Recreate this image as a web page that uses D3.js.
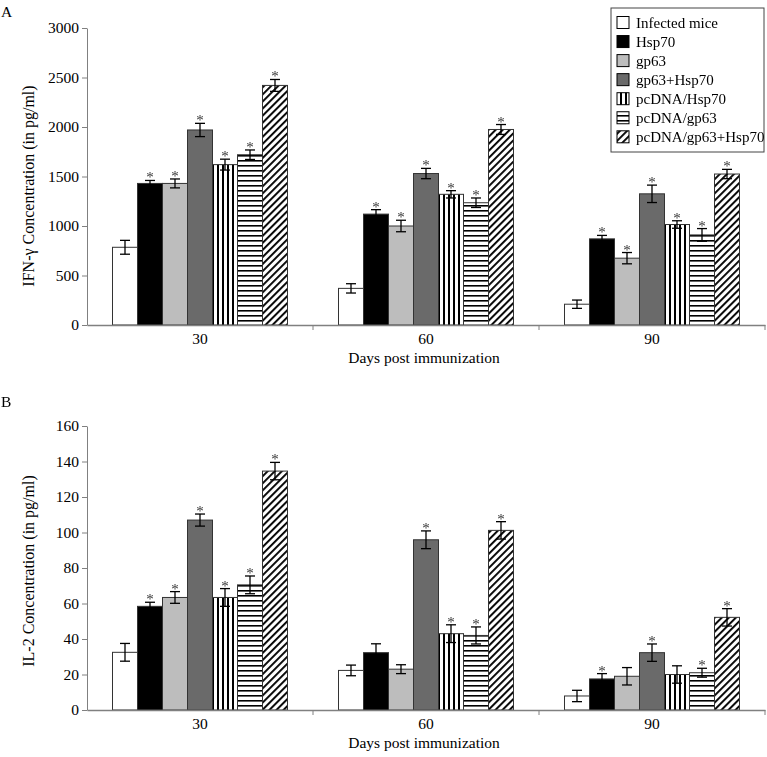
<!DOCTYPE html>
<html><head><meta charset="utf-8">
<script src="https://cdn.jsdelivr.net/npm/d3@7"></script>
<style>body{margin:0;background:#fff}svg{display:block}text{font-family:"Liberation Serif","Times New Roman",serif}.ast{opacity:0.99;will-change:transform}</style>
</head><body><svg id="c" width="767" height="757"></svg>
<script>
const categories = ["30", "60", "90"];
const seriesNames = ["Infected mice", "Hsp70", "gp63", "gp63+Hsp70", "pcDNA/Hsp70", "pcDNA/gp63", "pcDNA/gp63+Hsp70"];
// IFN-gamma (panel A): values per series, one per day
const ifnValues = [
  [785, 370, 210],
  [1430, 1120, 870],
  [1430, 1000, 675],
  [1970, 1530, 1325],
  [1620, 1320, 1015],
  [1720, 1235, 910],
  [2420, 1975, 1525]
];
const ifnErrors = [
  [70, 47, 42],
  [30, 45, 35],
  [45, 58, 57],
  [67, 52, 88],
  [55, 37, 38],
  [48, 48, 64],
  [60, 50, 47]
];
const ifnSig = [
  [0, 0, 0], [1, 1, 1], [1, 1, 1], [1, 1, 1], [1, 1, 1], [1, 1, 1], [1, 1, 1]
];
// IL-2 (panel B)
const il2Values = [
  [32.5, 22.3, 7.9],
  [58.4, 32.3, 17.5],
  [63.4, 23, 19],
  [107, 95.9, 32.3],
  [63.4, 43, 20],
  [70.5, 42, 21],
  [134.6, 101.2, 52.2]
];
const il2Errors = [
  [5, 3, 3.2],
  [2.3, 5, 3],
  [3.3, 2.5, 4.9],
  [3.4, 5, 4.9],
  [5, 5, 4.9],
  [5, 4.8, 2.5],
  [4.9, 4.9, 4.9]
];
const il2Sig = [
  [0, 0, 0], [1, 0, 1], [1, 0, 0], [1, 1, 1], [1, 1, 0], [1, 1, 1], [1, 1, 1]
];
const ifnTicks = [0, 500, 1000, 1500, 2000, 2500, 3000];
const il2Ticks = [0, 20, 40, 60, 80, 100, 120, 140, 160];

const svg = d3.select("#c");
const defs = svg.append("defs");
// patterns
const pv = defs.append("pattern").attr("id","pv").attr("patternUnits","userSpaceOnUse").attr("width",5).attr("height",5);
pv.append("rect").attr("width",5).attr("height",5).attr("fill","#fff");
pv.append("rect").attr("x",0).attr("width",2).attr("height",5).attr("fill","#000");
const ph = defs.append("pattern").attr("id","ph").attr("patternUnits","userSpaceOnUse").attr("width",5).attr("height",5);
ph.append("rect").attr("width",5).attr("height",5).attr("fill","#fff");
ph.append("rect").attr("y",0).attr("width",5).attr("height",1.6).attr("fill","#000");
const pd = defs.append("pattern").attr("id","pd").attr("patternUnits","userSpaceOnUse").attr("width",5).attr("height",5).attr("patternTransform","rotate(45)");
pd.append("rect").attr("width",5).attr("height",5).attr("fill","#fff");
pd.append("rect").attr("x",0).attr("width",1.9).attr("height",5).attr("fill","#000");

const fills = ["#ffffff", "#000000", "#bdbdbd", "#6a6a6a", "url(#pv)", "url(#ph)", "url(#pd)"];
const axisColor = "#808080";
const FS = 15.5;

function panel(opts) {
  const {top, bottom, left, right, values, errors, sig, ticks, maxY, yTitle, yTitleY, label, labelY} = opts;
  const g = svg.append("g");
  const x0 = d3.scaleBand().domain(categories).range([left, right]).paddingInner(0).paddingOuter(0);
  const x1 = d3.scaleBand().domain(d3.range(seriesNames.length)).range([0, x0.bandwidth()]).paddingOuter(1.02).paddingInner(0);
  const y = d3.scaleLinear().domain([0, maxY]).range([bottom, top]);

  // Y axis
  const ya = g.append("g").attr("transform", `translate(${left},0)`)
    .call(d3.axisLeft(y).tickValues(ticks).tickFormat(d3.format("d")).tickSize(5).tickSizeOuter(0).tickPadding(3));
  ya.select(".domain").attr("stroke", axisColor);
  ya.selectAll(".tick line").attr("stroke", axisColor);
  ya.selectAll("text").attr("font-family", "Liberation Serif").attr("font-size", FS).attr("fill", "#000");

  // bars
  const astG = g.append("g").attr("class", "ast");
  const groups = g.append("g").selectAll("g").data(categories).join("g")
    .attr("transform", c => `translate(${x0(c)},0)`);
  groups.each(function(c, ci) {
    const gg = d3.select(this);
    seriesNames.forEach((s, si) => {
      const v = values[si][ci], e = errors[si][ci];
      const bx = x1(si), bw = x1.bandwidth();
      gg.append("rect").attr("x", bx).attr("y", y(v)).attr("width", bw).attr("height", y(0) - y(v))
        .attr("fill", fills[si]).attr("stroke", "#333").attr("stroke-width", 1);
      const cx = bx + bw / 2;
      gg.append("line").attr("x1", cx).attr("x2", cx).attr("y1", y(v + e)).attr("y2", y(v - e)).attr("stroke", "#000").attr("stroke-width", 1.3);
      gg.append("line").attr("x1", cx - 5).attr("x2", cx + 5).attr("y1", y(v + e)).attr("y2", y(v + e)).attr("stroke", "#000").attr("stroke-width", 1.3);
      gg.append("line").attr("x1", cx - 5).attr("x2", cx + 5).attr("y1", y(v - e)).attr("y2", y(v - e)).attr("stroke", "#000").attr("stroke-width", 1.3);
      if (sig[si][ci]) {
        astG.append("text").attr("x", x0(c) + cx).attr("y", y(v + e) + 2).attr("text-anchor", "middle")
          .attr("font-size", 15).attr("fill", "#333").text("*");
      }
    });
  });
  astG.raise();

  // X axis
  const xa = g.append("g").attr("transform", `translate(0,${bottom})`)
    .call(d3.axisBottom(x0).tickSize(0).tickPadding(8));
  xa.select(".domain").attr("stroke", axisColor).attr("stroke-width", 1.3);
  xa.selectAll("text").attr("font-family", "Liberation Serif").attr("font-size", FS).attr("fill", "#000");
  // boundary ticks
  g.append("g").selectAll("line").data(categories.slice(1).concat(["end"])).join("line")
    .attr("x1", (c, i) => left + x0.bandwidth() * (i + 1)).attr("x2", (c, i) => left + x0.bandwidth() * (i + 1))
    .attr("y1", bottom).attr("y2", bottom + 5).attr("stroke", axisColor);

  g.append("text").attr("x", 424).attr("y", bottom + 38).attr("text-anchor", "middle")
    .attr("font-size", FS).text("Days post immunization");
  g.append("text").attr("transform", `translate(34,${yTitleY}) rotate(-90)`).attr("text-anchor", "middle")
    .attr("font-size", 16).text(yTitle);
  g.append("text").attr("x", 1).attr("y", labelY).attr("font-size", FS).text(label);
}

panel({top: 28, bottom: 325, left: 87, right: 765, values: ifnValues, errors: ifnErrors, sig: ifnSig,
  ticks: ifnTicks, maxY: 3000, yTitle: "IFN-γ Concentration (in pg/ml)", yTitleY: 186, label: "A", labelY: 17});
panel({top: 426, bottom: 710, left: 87, right: 765, values: il2Values, errors: il2Errors, sig: il2Sig,
  ticks: il2Ticks, maxY: 160, yTitle: "IL-2 Concentration (in pg/ml)", yTitleY: 571, label: "B", labelY: 407});

// legend
const lg = svg.append("g");
lg.append("rect").attr("x", 611).attr("y", 8).attr("width", 153).attr("height", 144)
  .attr("fill", "#fff").attr("stroke", "#444").attr("stroke-width", 1);
seriesNames.forEach((s, i) => {
  const cy = 22.5 + i * 19.05;
  lg.append("rect").attr("x", 617).attr("y", cy - 6).attr("width", 12).attr("height", 12)
    .attr("fill", fills[i]).attr("stroke", "#000").attr("stroke-width", 1);
  lg.append("text").attr("x", 636).attr("y", cy + 5).attr("font-size", 15).text(s);
});
</script></body></html>
